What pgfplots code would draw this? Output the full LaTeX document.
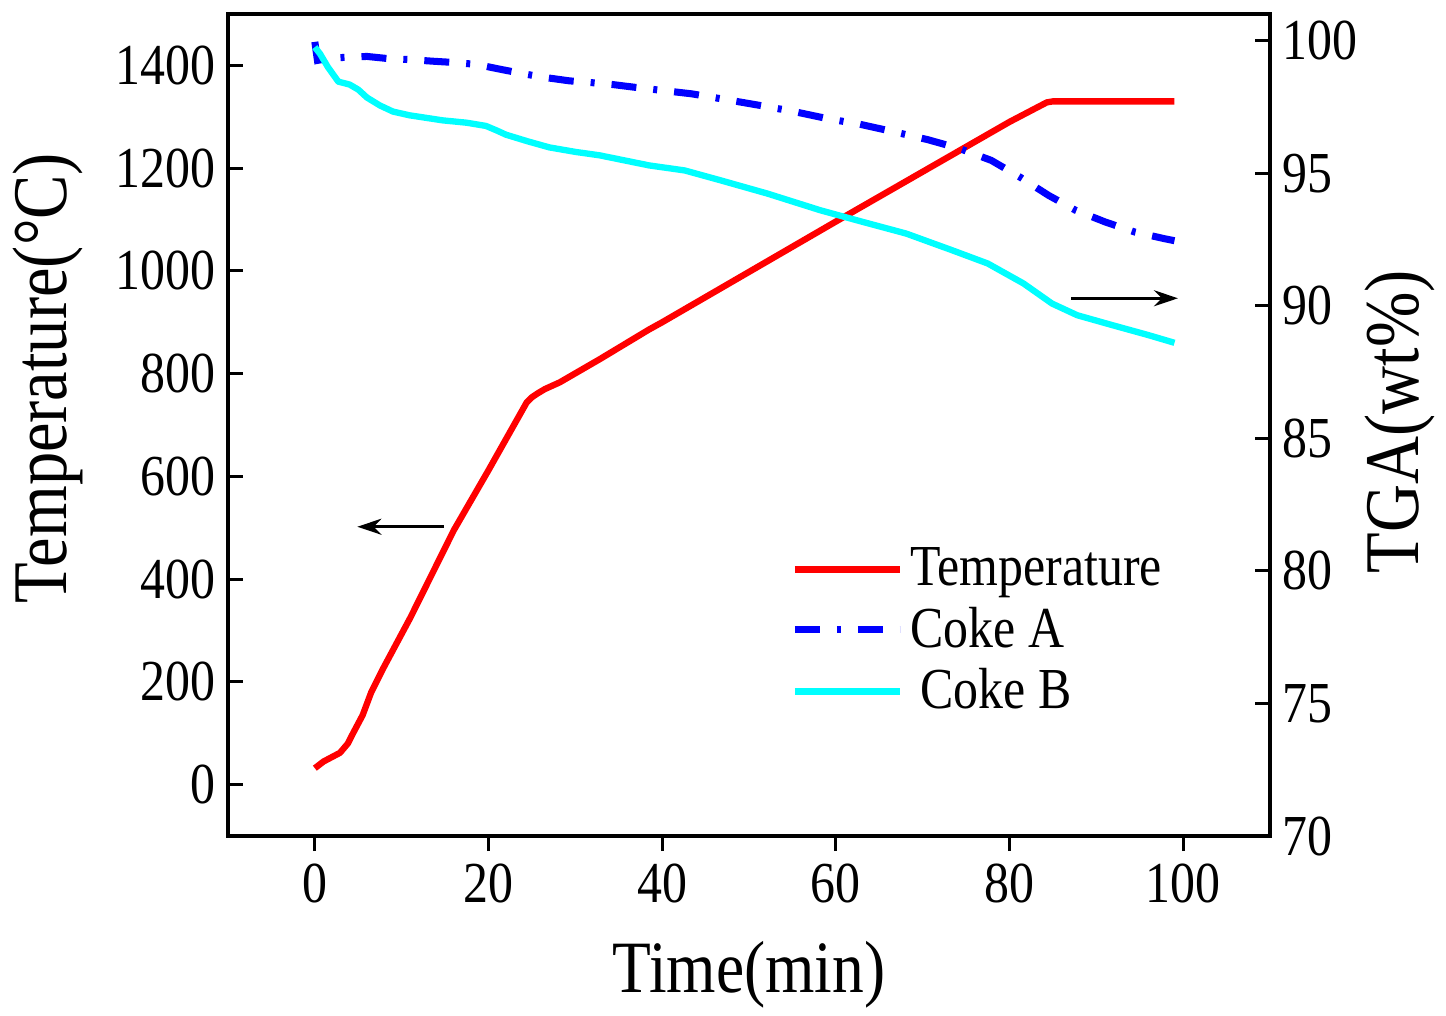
\documentclass[border=0pt]{standalone}
\usepackage{fontspec}
\setmainfont{Liberation Serif}[FakeStretch=0.86]
\usepackage{pgfplots}
\pgfplotsset{compat=1.18}
\usetikzlibrary{arrows.meta}
\definecolor{aqua}{RGB}{0,255,255}
\definecolor{pureblue}{RGB}{0,0,255}
\definecolor{purered}{RGB}{255,0,0}

\pgfplotstableread{
t T
0 32
1 45
2.9 62
3.8 80
4.4 100
5.5 135
6.5 180
7.8 224
11 325
16 495
20 612
24.4 744
25 754
25.7 762
26.5 770
28.2 783
32.8 828
38.5 886
40 900
50 998
60 1096
70 1193
80 1290
84.3 1328
85 1330
99 1330
}\temptable

\pgfplotstableread{
t w
0 99.95
0.3 99.25
1.5 99.32
3.2 99.36
6 99.40
8.4 99.32
10.9 99.28
13.6 99.22
16.1 99.17
18.6 99.10
21.3 98.92
23.8 98.76
26.2 98.62
29.3 98.48
31.6 98.42
34.3 98.34
37 98.23
39.4 98.14
43.4 97.99
47.4 97.77
51.3 97.55
54.9 97.34
59.1 97.05
62.8 96.84
66.8 96.55
70.6 96.26
74.3 95.92
77.9 95.48
81.2 94.85
84.5 94.16
87.6 93.6
91 93.16
94.4 92.78
97.8 92.53
99 92.45
}\cokeA

\pgfplotstableread{
t w
0 99.75
0.6 99.5
1.5 99.0
2.7 98.45
4 98.34
5 98.15
6 97.85
7.5 97.55
9 97.32
10.9 97.18
14.7 96.99
17.5 96.9
19.7 96.78
21 96.6
22 96.45
24.5 96.2
27 95.97
30 95.8
32.8 95.67
38.5 95.29
42.6 95.1
46.7 94.73
52.1 94.23
58.2 93.6
63.1 93.16
68.1 92.72
73.4 92.09
77.5 91.59
81.6 90.84
84.9 90.08
87.8 89.64
91.8 89.27
96 88.89
99 88.6
}\cokeB

\pgfplotsset{
  common/.style={
    scale only axis,
    width=10.42cm, height=8.22cm,
    xmin=-10, xmax=110,
    /pgf/number format/assume math mode=true,
    /pgf/number format/1000 sep={},
    tick label style={font=\fontsize{16.5}{19}\selectfont},
    label style={font=\fontsize{22}{26}\selectfont},
    major tick length=0.15cm,
    axis line style={line width=0.9pt},
    every tick/.style={black, line width=0.9pt},
    legend image code/.code={\draw[#1] (0cm,0cm) -- (1.05cm,0cm);},
  }
}

\begin{document}
\begin{tikzpicture}
\begin{axis}[
  common,
  ymin=-100, ymax=1500,
  xtick={0,20,...,100},
  ytick={0,200,...,1400},
  xtick pos=bottom, xtick align=outside,
  ytick pos=left, ytick align=inside,
  xlabel={Time(min)},
  ylabel={Temperature(\textdegree C)},
  xlabel style={at={(axis description cs:0.5,-0.169)}, anchor=center,
    font=\fontsize{21}{25}\selectfont},
  ylabel style={at={(axis description cs:-0.173,0.557)}, anchor=center},
]
\addplot[purered, line width=1.8pt, line join=round] table[x=t, y=T] {\temptable};
\draw[line width=0.9pt, -{Stealth[length=0.24cm, width=0.16cm]}] (axis cs:14.9,502) -- (axis cs:4.9,502);
\end{axis}

\begin{axis}[
  common,
  ymin=70, ymax=101,
  ytick={70,75,...,100},
  axis x line=none,
  axis y line*=right,
  ytick align=inside,
  ylabel={TGA(wt\%)},
  ylabel style={at={(axis description cs:1.125,0.504)}, anchor=center},
  legend style={at={(axis description cs:0.54,0.36)}, anchor=north west,
    draw=none, fill=none, font=\fontsize{16.5}{19}\selectfont,
    row sep=0.02cm, inner sep=0pt},
  legend cell align=left,
]
\addlegendimage{purered, line width=1.8pt}
\addlegendentry{Temperature}
\addplot[pureblue, line width=2pt, dash pattern=on 0.25cm off 0.17cm on 0.04cm off 0.17cm] table[x=t, y=w] {\cokeA};
\addlegendentry{Coke A}
\addplot[aqua, line width=1.8pt, line join=round] table[x=t, y=w] {\cokeB};
\addlegendentry{\hspace{0.1cm}Coke B}
\draw[line width=0.9pt, -{Stealth[length=0.24cm, width=0.16cm]}] (axis cs:87.1,90.28) -- (axis cs:99.4,90.28);
\end{axis}
\pgfresetboundingbox
\path (-2.28cm,-1.79cm) rectangle (12.18cm,8.36cm);
\end{tikzpicture}
\end{document}
